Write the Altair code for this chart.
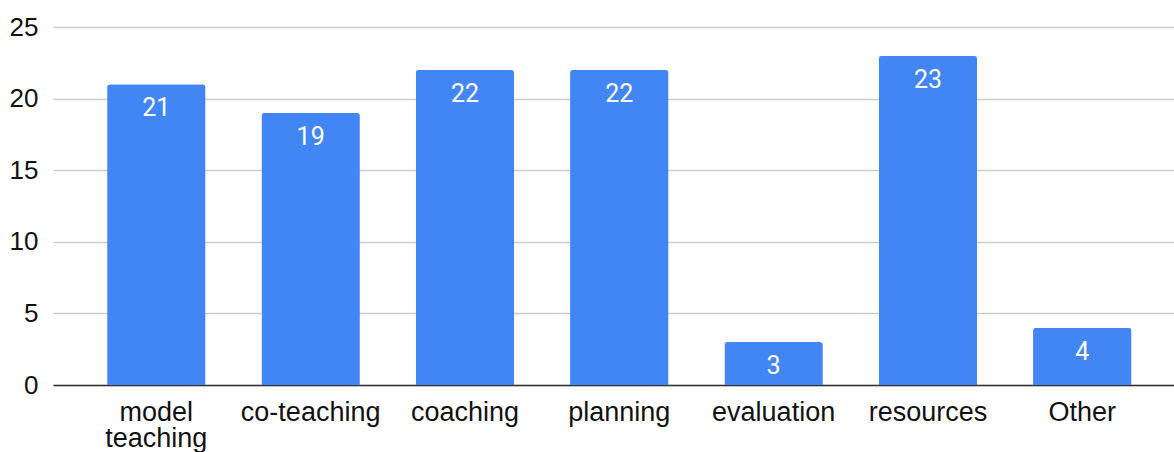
import altair as alt
import pandas as pd

categories = ["model teaching", "co-teaching", "coaching", "planning", "evaluation", "resources", "Other"]
counts = [21, 19, 22, 22, 3, 23, 4]

df = pd.DataFrame({"category": categories, "count": counts})

x_enc = alt.X(
    "category:N",
    sort=categories,
    title=None,
    scale=alt.Scale(paddingInner=0.362, paddingOuter=0.313, align=0.56),
    axis=alt.Axis(
        labelAngle=0,
        labelFont="Liberation Sans",
        labelFontSize=27,
        labelColor="#111111",
        labelPadding=14,
        labelBaseline="top",
        labelLineHeight=26,
        labelExpr="split(datum.label, ' ')",
        ticks=False,
        domainColor="#333333",
        domainWidth=1.5,
        grid=False,
    ),
)

y_enc = alt.Y(
    "count:Q",
    title=None,
    scale=alt.Scale(domain=[0, 25], nice=False),
    axis=alt.Axis(
        values=[0, 5, 10, 15, 20, 25],
        labelFont="Liberation Sans",
        labelFontSize=26,
        labelColor="#111111",
        labelPadding=15,
        ticks=False,
        domain=False,
        gridColor="#cccccc",
        gridWidth=1.5,
    ),
)

bars = alt.Chart(df).mark_bar(color="#4285F4", cornerRadiusTopLeft=3, cornerRadiusTopRight=3).encode(
    x=x_enc, y=y_enc
)

labels = alt.Chart(df).mark_text(
    color="white", font="Roboto", fontSize=25, baseline="middle", dy=24
).encode(
    x=alt.X("category:N", sort=categories),
    y=alt.Y("count:Q"),
    text=alt.Text("count:Q"),
)

chart = (
    alt.layer(bars, labels)
    .properties(
        width=1121,
        height=358,
        padding={"left": 53, "top": 27, "right": 0, "bottom": 67},
        autosize=alt.AutoSizeParams(type="none"),
        background="white",
    )
    .configure_view(stroke=None)
)

chart.save("out.html", embed_options={"renderer": "svg", "actions": False})
